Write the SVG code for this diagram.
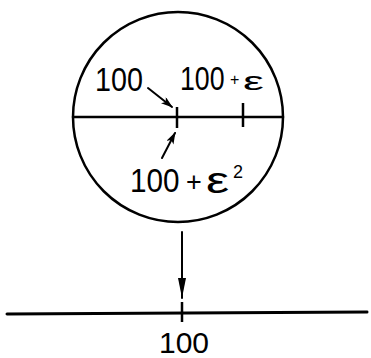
<svg xmlns="http://www.w3.org/2000/svg" width="371" height="358" viewBox="0 0 371 358">
<defs>
<style>
.ln{stroke:#000;stroke-width:2.5;fill:none;stroke-linecap:round}
.tk{stroke:#000;stroke-width:2.5;fill:none}
.t{font-family:"Liberation Sans",Arial,sans-serif;font-size:33px;fill:#000}
</style>
<marker id="ah" viewBox="0 0 12 8" refX="11" refY="4" markerWidth="12" markerHeight="8" markerUnits="userSpaceOnUse" orient="auto">
<path d="M0,0 L12,4 L0,8 L3,4 Z" fill="#000"/>
</marker>
<marker id="ahd" viewBox="0 0 20 8" refX="20" refY="4" markerWidth="20" markerHeight="8" markerUnits="userSpaceOnUse" orient="auto">
<path d="M0,0 L20,4 L0,8 Z" fill="#000"/>
</marker>
</defs>
<g id="zoom-circle">
<circle cx="178" cy="117" r="105" class="ln"/>
<line x1="73" y1="117" x2="283" y2="117" class="ln"/>
<line x1="177" y1="107" x2="177" y2="128" class="tk"/>
<line x1="243" y1="103" x2="243" y2="127" class="tk"/>
</g>
<g id="label-100">
<text class="t" transform="translate(95,91) scale(0.87,1)">100</text>
</g>
<g id="label-100-eps">
<text class="t" transform="translate(180,90) scale(0.81,1)">100</text>
<text class="t" x="230" y="85" style="font-size:16px">+</text>
<text class="t" transform="translate(243,90) scale(1.8,1)" style="font-size:26px">ε</text>
</g>
<g id="label-100-eps2">
<text class="t" transform="translate(130,192) scale(0.9,1)">100</text>
<text class="t" x="186" y="191" style="font-size:27px">+</text>
<text class="t" transform="translate(206,193) scale(1.4,1)" style="font-size:37px">ε</text>
<text class="t" x="233" y="178" style="font-size:18px">2</text>
</g>
<g id="number-line">
<line x1="7" y1="314" x2="367" y2="312" class="ln" style="stroke-width:3"/>
<line x1="182" y1="302" x2="182" y2="322" class="tk"/>
<text class="t" x="159" y="353" style="font-size:30px">100</text>
</g>
<g id="connectors">
<line x1="148" y1="88" x2="172" y2="107" class="ln" style="stroke-width:2" marker-end="url(#ah)"/>
<line x1="162" y1="158" x2="175" y2="133" class="ln" style="stroke-width:2" marker-end="url(#ah)"/>
<line x1="182" y1="232" x2="182" y2="298" class="ln" style="stroke-width:2" marker-end="url(#ahd)"/>
</g>
</svg>
